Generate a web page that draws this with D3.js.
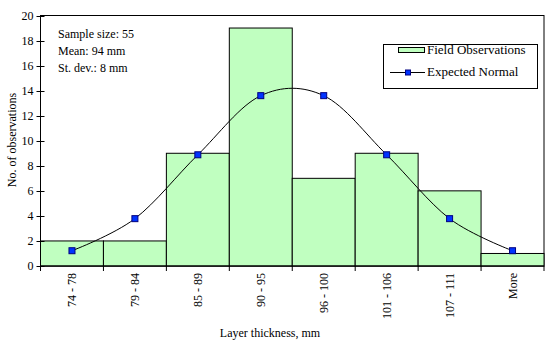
<!DOCTYPE html>
<html>
<head>
<meta charset="utf-8">
<script src="https://cdn.jsdelivr.net/npm/d3@7"></script>
<style>
  body { margin: 0; background: #fff; }
  text { font-family: "Liberation Serif", "Times New Roman", serif; fill: #000; }
</style>
</head>
<body>
<div id="chart"></div>
<script>
var bins = ["74 - 78", "79 - 84", "85 - 89", "90 - 95", "96 - 100", "101 - 106", "107 - 111", "More"];
var observed = [2, 2, 9, 19, 7, 9, 6, 1];
var expected = [1.22, 3.78, 8.88, 13.6, 13.6, 8.88, 3.78, 1.22];
var yTicks = [0, 2, 4, 6, 8, 10, 12, 14, 16, 18, 20];
var notes = ["Sample size: 55", "Mean: 94 mm", "St. dev.: 8 mm"];

var width = 550, height = 352;
var plotLeft = 40.5, plotRight = 544, plotTop = 15.5, plotBottom = 266;
var fontSize = "12px";

var svg = d3.select("#chart").append("svg")
  .attr("width", width)
  .attr("height", height);

var x = d3.scaleBand()
  .domain(bins)
  .range([plotLeft, plotRight])
  .padding(0);

var y = d3.scaleLinear()
  .domain([0, 20])
  .range([plotBottom, plotTop]);

// plot frame
svg.append("rect")
  .attr("x", plotLeft)
  .attr("y", plotTop)
  .attr("width", plotRight - plotLeft)
  .attr("height", plotBottom - plotTop)
  .style("fill", "none")
  .style("stroke", "#000")
  .style("stroke-width", 1);

// bars
svg.selectAll("rect.bar")
  .data(observed)
  .enter().append("rect")
  .attr("class", "bar")
  .attr("x", function (d, i) { return x(bins[i]); })
  .attr("y", function (d) { return y(d); })
  .attr("width", x.bandwidth())
  .attr("height", function (d) { return plotBottom - y(d); })
  .style("fill", "#c0ffc0")
  .style("stroke", "#000")
  .style("stroke-width", 1);

// y axis
var yAxis = svg.append("g")
  .attr("transform", "translate(" + plotLeft + ",0)");
yAxis.append("line")
  .attr("y1", plotTop).attr("y2", plotBottom)
  .style("stroke", "#000");
yAxis.selectAll("line.tick")
  .data(yTicks)
  .enter().append("line")
  .attr("class", "tick")
  .attr("x1", -4).attr("x2", 4)
  .attr("y1", function (d) { return Math.round(y(d)) + 0.5; })
  .attr("y2", function (d) { return Math.round(y(d)) + 0.5; })
  .style("stroke", "#000");
yAxis.selectAll("text")
  .data(yTicks)
  .enter().append("text")
  .attr("x", -7)
  .attr("y", function (d) { return y(d) + 4; })
  .style("text-anchor", "end")
  .style("font-size", fontSize)
  .text(function (d) { return d; });

// x axis
var xAxis = svg.append("g")
  .attr("transform", "translate(0," + plotBottom + ")");
xAxis.append("line")
  .attr("x1", plotLeft).attr("x2", plotRight)
  .style("stroke", "#000");
xAxis.selectAll("line.tick")
  .data(bins.concat(["end"]))
  .enter().append("line")
  .attr("class", "tick")
  .attr("x1", function (d, i) { return plotLeft + i * x.bandwidth(); })
  .attr("x2", function (d, i) { return plotLeft + i * x.bandwidth(); })
  .attr("y1", 0).attr("y2", 5)
  .style("stroke", "#000");
xAxis.selectAll("text")
  .data(bins)
  .enter().append("text")
  .attr("transform", function (d) {
    return "translate(" + (x(d) + x.bandwidth() / 2 + 4) + ",7) rotate(-90)";
  })
  .style("text-anchor", "end")
  .style("font-size", fontSize)
  .text(function (d) { return d; });

// expected normal curve
var line = d3.line()
  .x(function (d, i) { return x(bins[i]) + x.bandwidth() / 2; })
  .y(function (d) { return y(d); })
  .curve(d3.curveCatmullRom.alpha(0));

svg.append("path")
  .datum(expected)
  .attr("d", line)
  .style("fill", "none")
  .style("stroke", "#000")
  .style("stroke-width", 1);

svg.selectAll("rect.marker")
  .data(expected)
  .enter().append("rect")
  .attr("class", "marker")
  .attr("x", function (d, i) { return x(bins[i]) + x.bandwidth() / 2 - 3; })
  .attr("y", function (d) { return y(d) - 3; })
  .attr("width", 6)
  .attr("height", 6)
  .style("fill", "#0033ff")
  .style("stroke", "#000080")
  .style("stroke-width", 1);

// notes
svg.selectAll("text.note")
  .data(notes)
  .enter().append("text")
  .attr("class", "note")
  .attr("x", 58)
  .attr("y", function (d, i) { return 38 + i * 17; })
  .style("font-size", fontSize)
  .text(function (d) { return d; });

// legend
var legend = svg.append("g");
legend.append("rect")
  .attr("x", 383.5).attr("y", 44.5)
  .attr("width", 154).attr("height", 44)
  .style("fill", "#fff")
  .style("stroke", "#000");
legend.append("rect")
  .attr("x", 398.5).attr("y", 47.5)
  .attr("width", 26).attr("height", 5)
  .style("fill", "#c0ffc0")
  .style("stroke", "#000");
legend.append("text")
  .attr("x", 427).attr("y", 54)
  .style("font-size", "13px")
  .text("Field Observations");
legend.append("line")
  .attr("x1", 390).attr("x2", 425)
  .attr("y1", 72.5).attr("y2", 72.5)
  .style("stroke", "#000");
legend.append("rect")
  .attr("x", 405.5).attr("y", 70)
  .attr("width", 5).attr("height", 5)
  .style("fill", "#0033ff")
  .style("stroke", "#000080");
legend.append("text")
  .attr("x", 427).attr("y", 76)
  .style("font-size", "13px")
  .text("Expected Normal");

// axis titles
svg.append("text")
  .attr("transform", "translate(16,140) rotate(-90)")
  .style("text-anchor", "middle")
  .style("font-size", fontSize)
  .text("No. of observations");

svg.append("text")
  .attr("x", 270)
  .attr("y", 337)
  .style("text-anchor", "middle")
  .style("font-size", fontSize)
  .text("Layer thickness, mm");
</script>
</body>
</html>
